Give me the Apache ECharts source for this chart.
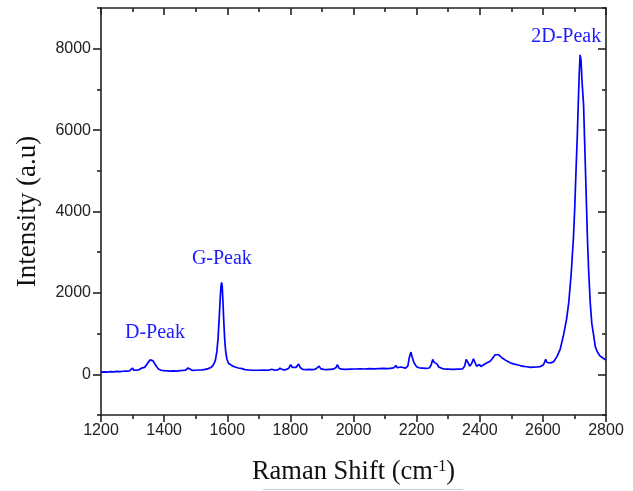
<!DOCTYPE html>
<html>
<head>
<meta charset="utf-8">
<script src="https://cdn.jsdelivr.net/npm/echarts@6/dist/echarts.min.js"></script>
<style>
  html, body { margin: 0; padding: 0; background: #fff; }
  #chart { width: 633px; height: 491px; }
</style>
</head>
<body>
<div id="chart"></div>
<script>
// Raman spectrum: shift (cm^-1) and intensity (a.u.)
const shift = [
  1200, 1210, 1220, 1230, 1240, 1250, 1260, 1270, 1280, 1290, 1296, 1300, 1304, 1310, 1320, 1328, 1334, 1338,
  1344, 1350, 1356, 1360, 1365, 1370, 1376, 1382, 1390, 1400, 1410, 1420, 1430, 1440, 1450, 1460, 1468, 1473,
  1476, 1480, 1490, 1500, 1510, 1520, 1530, 1540, 1548, 1555, 1562, 1567, 1571, 1575, 1578, 1580, 1582, 1584,
  1586, 1589, 1592, 1595, 1599, 1604, 1610, 1617, 1625, 1635, 1647, 1656, 1670, 1685, 1700, 1715, 1730, 1741,
  1748, 1760, 1767, 1775, 1785, 1795, 1801, 1806, 1810, 1818, 1826, 1832, 1840, 1850, 1860, 1870, 1880, 1886,
  1891, 1896, 1905, 1915, 1925, 1935, 1944, 1949, 1954, 1962, 1975, 1990, 2005, 2020, 2035, 2050, 2065, 2080,
  2095, 2110, 2122, 2130, 2134, 2139, 2144, 2150, 2156, 2165, 2172, 2177, 2182, 2186, 2191, 2196, 2201, 2210,
  2220, 2230, 2240, 2246, 2251, 2255, 2260, 2265, 2270, 2275, 2285, 2300, 2315, 2330, 2345, 2352, 2357, 2362,
  2368, 2374, 2380, 2385, 2390, 2395, 2399, 2404, 2410, 2420, 2433, 2443, 2449, 2454, 2460, 2467, 2475, 2485,
  2496, 2507, 2518, 2528, 2539, 2550, 2560, 2570, 2581, 2592, 2602, 2606, 2609, 2613, 2618, 2625, 2634, 2645,
  2655, 2665, 2675, 2682, 2690, 2697, 2701, 2705, 2709, 2712, 2715, 2718, 2721, 2724, 2729, 2732, 2735, 2738,
  2741, 2745, 2750, 2755, 2761, 2766, 2772, 2780, 2790, 2800
];
const intensity = [
  55, 60, 55, 65, 60, 70, 65, 75, 80, 85, 110, 150, 100, 95, 110, 150, 190, 170,
  230, 300, 355, 360, 330, 260, 190, 130, 100, 90, 85, 80, 85, 80, 90, 95, 100, 140,
  155, 110, 95, 100, 105, 110, 120, 140, 165, 220, 330, 550, 900, 1450, 1900, 2150, 2260, 2170,
  1850, 1300, 850, 560, 370, 270, 230, 200, 180, 155, 140, 115, 105, 100, 100, 105, 100, 125,
  105, 110, 150, 115, 110, 150, 235, 170, 140, 170, 250, 160, 120, 115, 120, 115, 125, 150,
  200, 140, 120, 115, 120, 125, 160, 235, 150, 125, 120, 125, 130, 135, 130, 140, 135, 140,
  145, 140, 150, 170, 220, 160, 150, 180, 150, 150, 200, 420, 545, 420, 300, 230, 180, 155,
  150, 145, 155, 230, 365, 300, 340, 250, 180, 150, 130, 125, 120, 125, 130, 200, 365, 300,
  200, 260, 380, 290, 200, 180, 240, 190, 210, 270, 320, 420, 480, 500, 480, 430, 380, 330,
  285, 255, 235, 215, 195, 185, 170, 175, 180, 190, 235, 280, 365, 290, 265, 280, 310, 440,
  620, 950, 1350, 1760, 2500, 3380, 4100, 5000, 5850, 6620, 7350, 7850, 7700, 7200, 6620, 5800, 5000, 4200,
  3380, 2550, 1760, 1250, 950, 680, 560, 460, 400, 350
];

// Peak annotations: label text and its anchor in data units
const peakNames = ['D-Peak', 'G-Peak', '2D-Peak'];
const peakShift = [1371, 1583, 2674];
const peakLabelY = [1020, 2850, 8290];

// Axis tick values
const xTicks = [1200, 1400, 1600, 1800, 2000, 2200, 2400, 2600, 2800];
const yMajor = [0, 2000, 4000, 6000, 8000];
const yMinor = [-1000, 1000, 3000, 5000, 7000, 9000];

const AXIS_COLOR = '#222';
const SANS = '"Liberation Sans", Arial, sans-serif';
const SERIF = '"Liberation Serif", "Times New Roman", serif';
const BLUE = '#0000ff';

const chart = echarts.init(document.getElementById('chart'), null, { renderer: 'canvas' });

const lineStyle = { color: AXIS_COLOR, width: 1.6 };
const plain = v => String(v);

const yBase = {
  type: 'value', min: -1000, max: 9000, interval: 1000,
  splitLine: { show: false }
};

chart.setOption({
  animation: false,
  backgroundColor: '#fff',
  grid: { left: 101, right: 27, top: 8, bottom: 69, containLabel: false },
  xAxis: [
    {
      type: 'value', min: xTicks[0], max: xTicks[xTicks.length - 1], interval: 200,
      position: 'bottom',
      name: 'Raman Shift (cm{sup|-1})',
      nameLocation: 'middle', nameGap: 44,
      nameTextStyle: {
        fontFamily: SERIF, fontSize: 26.5, color: '#111',
        rich: { sup: { fontFamily: SERIF, fontSize: 16, verticalAlign: 'top', padding: [0, 0, 10, 0] } }
      },
      axisLine: { show: true, onZero: false, lineStyle },
      axisTick: { show: true, inside: false, length: 7, lineStyle },
      minorTick: { show: true, splitNumber: 2, length: 4, lineStyle },
      axisLabel: { fontFamily: SANS, fontSize: 16, color: '#222', margin: 8, formatter: plain },
      splitLine: { show: false }
    },
    {
      type: 'value', min: xTicks[0], max: xTicks[xTicks.length - 1], interval: 200,
      position: 'top',
      axisLine: { show: true, onZero: false, lineStyle },
      axisTick: { show: true, inside: true, length: 7, lineStyle },
      minorTick: { show: true, splitNumber: 2, length: 4, lineStyle },
      axisLabel: { show: false },
      splitLine: { show: false }
    }
  ],
  yAxis: [
    Object.assign({}, yBase, {
      position: 'left',
      name: 'Intensity (a.u)',
      nameLocation: 'middle', nameGap: 60,
      nameTextStyle: { fontFamily: SERIF, fontSize: 27, color: '#111' },
      axisLine: { show: true, onZero: false, lineStyle },
      axisTick: { show: true, inside: false, length: 8, lineStyle, customValues: yMajor },
      axisLabel: { fontFamily: SANS, fontSize: 16, color: '#222', margin: 10, customValues: yMajor, formatter: plain }
    }),
    Object.assign({}, yBase, {
      position: 'left',
      axisLine: { show: false },
      axisTick: { show: true, inside: false, length: 4, lineStyle, customValues: yMinor },
      axisLabel: { show: false }
    }),
    Object.assign({}, yBase, {
      position: 'right',
      axisLine: { show: true, onZero: false, lineStyle },
      axisTick: { show: true, inside: true, length: 8, lineStyle, customValues: yMajor },
      axisLabel: { show: false }
    }),
    Object.assign({}, yBase, {
      position: 'right',
      axisLine: { show: false },
      axisTick: { show: true, inside: true, length: 4, lineStyle, customValues: yMinor },
      axisLabel: { show: false }
    })
  ],
  series: [
    {
      type: 'line',
      xAxisIndex: 0, yAxisIndex: 0,
      data: shift.map((s, i) => [s, intensity[i]]),
      showSymbol: false,
      symbol: 'none',
      lineStyle: { color: BLUE, width: 1.7 },
      itemStyle: { color: BLUE },
      markPoint: {
        symbol: 'circle', symbolSize: 1,
        itemStyle: { color: 'rgba(0,0,0,0)' },
        silent: true,
        label: {
          show: true, position: 'inside',
          fontFamily: SERIF, fontSize: 20, color: '#1c1cff',
          formatter: p => p.name
        },
        data: peakNames.map((n, i) => ({ name: n, coord: [peakShift[i], peakLabelY[i]] }))
      }
    }
  ],
  graphic: [
    {
      type: 'line', silent: true,
      shape: { x1: 263, y1: 489.5, x2: 463, y2: 489.5 },
      style: { stroke: '#cfcfcf', lineWidth: 1 }
    }
  ]
});
</script>
</body>
</html>
